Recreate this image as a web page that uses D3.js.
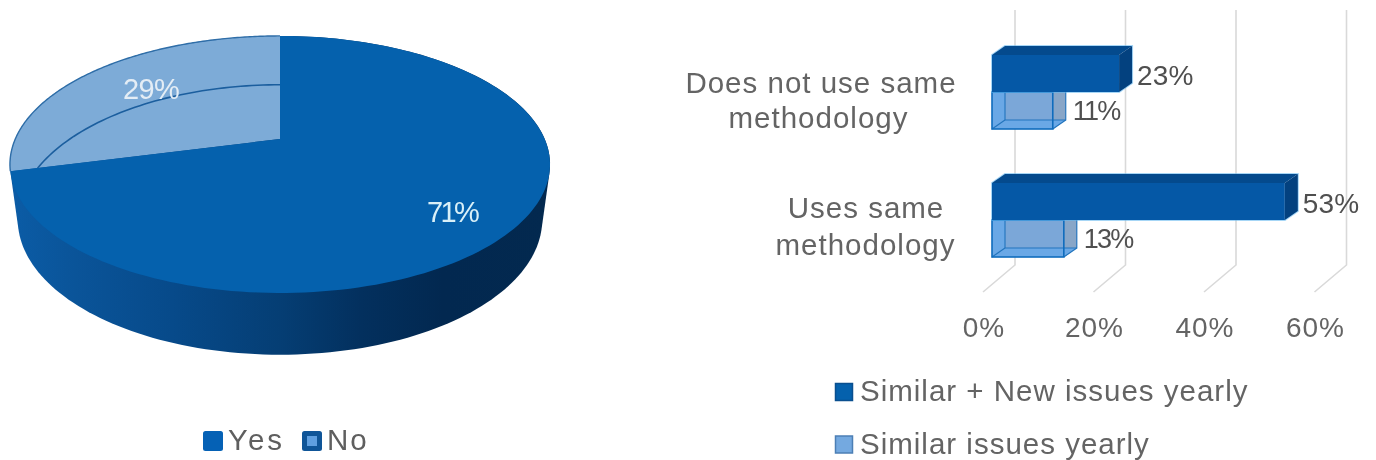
<!DOCTYPE html>
<html><head><meta charset="utf-8">
<script src="https://cdn.jsdelivr.net/npm/d3@7"></script>
<style>html,body{margin:0;padding:0;background:#fff}svg{display:block;filter:blur(0.55px)}text{font-family:"Liberation Sans",Arial,sans-serif}</style>
</head><body><svg id="c" width="1376" height="460"></svg>
<script>
const pieLabels = ["Yes","No"];
const pieValues = [71,29];
const categories = ["Does not use same methodology","Uses same methodology"];
const categoryLines = [["Does not use same","methodology"],["Uses same","methodology"]];
const seriesNames = ["Similar + New issues yearly","Similar issues yearly"];
const seriesNew = [23,53];
const seriesSimilar = [11,13];
const xTicks = [0,20,40,60];

const svg = d3.select("#c");
const defs = svg.append("defs");
const grad = defs.append("linearGradient").attr("id","wall").attr("gradientUnits","userSpaceOnUse")
  .attr("x1",10).attr("x2",550).attr("y1",0).attr("y2",0);
[[0,"#0b5ca6"],[0.12,"#0a5499"],[0.3,"#074a8a"],[0.5,"#053e74"],[0.65,"#03305e"],[0.8,"#022850"],[1,"#03294f"]]
  .forEach(s=>grad.append("stop").attr("offset",s[0]).attr("stop-color",s[1]));

// ---------- 3D pie: a perspective projection of the unit disc
const k = 0.198;
const topDisc = {cx:280, cy:139, a:264.7, h:123.5};
const baseDisc = {cx:280, cy:193, a:257, h:129.7};
const project = (d,u,v)=>[d.cx+d.a*u/(1-k*v), d.cy+d.h*v/(1-k*v)];
const rim = (d,a)=>project(d,Math.sin(a),-Math.cos(a));
const arcs = d3.pie().sort(null)(pieValues);
const sampleArc = (d,a0,a1,n=160)=>d3.range(n+1).map(i=>rim(d,a0+(a1-a0)*i/n));
const line = d3.line().curve(d3.curveLinear);
const full = 2*Math.PI;
const hull = d3.polygonHull(sampleArc(topDisc,0,full,240).concat(sampleArc(baseDisc,0,full,240)));
const pieG = svg.append("g");
pieG.append("path").attr("d",line(hull)+"Z").attr("fill","url(#wall)");
const sector = a=>line([[topDisc.cx,topDisc.cy],...sampleArc(topDisc,a.startAngle,a.endAngle)])+"Z";
// "No" slice: translucent; the far base edge shows through
defs.append("clipPath").attr("id","noClip").append("path").attr("d",sector(arcs[1]));
pieG.append("path").attr("d",sector(arcs[1])).attr("fill","#7dabd7");
pieG.append("path").attr("clip-path","url(#noClip)").attr("d",line(sampleArc(baseDisc,0,full,240))+"Z")
  .attr("fill","none").attr("stroke","#1b5e9e").attr("stroke-width",1.6);
pieG.append("path").attr("d",line(sampleArc(topDisc,arcs[1].startAngle,arcs[1].endAngle))).attr("fill","none").attr("stroke","#2f6ea8").attr("stroke-width",1.4);
pieG.append("path").attr("d",sector(arcs[0])).attr("fill","#0561ad");
pieG.append("text").attr("x",151).attr("y",99).attr("text-anchor","middle").attr("font-size",29).attr("letter-spacing",-.6).attr("fill","#e4edf5").text(pieValues[1]+"%");
pieG.append("text").attr("x",452).attr("y",222).attr("text-anchor","middle").attr("font-size",29).attr("letter-spacing",-2.6).attr("fill","#d9f0f8").text(pieValues[0]+"%");

// pie legend
const pieLegend = [{x:203,tx:228,ls:3,fill:"#0561b5",inner:null,lab:pieLabels[0]},{x:302,tx:327,ls:2,fill:"#0f5598",inner:"#5f9fe0",lab:pieLabels[1]}];
pieLegend.forEach(l=>{
  svg.append("rect").attr("x",l.x).attr("y",431).attr("width",20).attr("height",20).attr("rx",2.5).attr("fill",l.fill);
  if(l.inner) svg.append("rect").attr("x",l.x+5).attr("y",436).attr("width",10).attr("height",10).attr("fill",l.inner);
  svg.append("text").attr("x",l.tx).attr("y",450).attr("font-size",29.5).attr("letter-spacing",l.ls).attr("fill","#5f5f5f").text(l.lab);
});

// ---------- 3D bars
const x = d3.scaleLinear().domain([0,60]).range([992,1323.5]);
const dx = 13, dy = -9;
const y0 = d3.scaleBand().domain(categories).range([55,257]).paddingInner(54/128);
const y1 = d3.scaleBand().domain([0,1]).range([0,y0.bandwidth()]);
const wallOff = 23, floorOff = -9;
const grid = svg.append("g");
xTicks.forEach(t=>{
  const fx = x(t)+floorOff, wx = x(t)+wallOff;
  grid.append("path").attr("d",line([[wx,10],[wx,265],[fx,292]])).attr("fill","none").attr("stroke","#d9d9d9").attr("stroke-width",1.6);
});
svg.append("g").selectAll("text").data(xTicks).join("text")
  .attr("x",t=>x(t)-8).attr("y",337).attr("text-anchor","middle").attr("font-size",28).attr("letter-spacing",1).attr("fill","#646464").text(t=>t+"%");

categories.forEach((c,i)=>{
  const Y = y0(c), h = y1.bandwidth();
  // light wireframe bar
  {
    const t=Y+y1(1), b=t+h, L=x(0), R=x(seriesSimilar[i]);
    const g=svg.append("g");
    g.append("rect").attr("x",L).attr("y",t).attr("width",R-L).attr("height",h).attr("fill","#74a9e0").attr("fill-opacity",.9);
    g.append("rect").attr("x",L+dx).attr("y",t+dy).attr("width",R-L).attr("height",h).attr("fill","#7ba7d8");
    g.append("path").attr("d",line([[R,t],[R+dx,t+dy],[R+dx,b+dy],[R,b]])+"Z").attr("fill","#88a6c8");
    g.append("path").attr("d",line([[L,b],[L+dx,b+dy],[R+dx,b+dy],[R,b]])+"Z").attr("fill","#6aa8e6");
    g.append("path").attr("d",line([[L,t],[L+dx,t+dy],[L+dx,b+dy],[L,b]])+"Z").attr("fill","#6aa8e6");
    g.append("path").attr("d",line([[L+dx,t],[L+dx,b+dy],[R+dx,b+dy],[R+dx,t]])).attr("fill","none").attr("stroke","#2274bd").attr("stroke-width",1.1);
    g.append("path").attr("d",line([[L,b],[L+dx,b+dy]])).attr("stroke","#2274bd").attr("stroke-width",1.1);
    g.append("path").attr("d",line([[R,b],[R+dx,b+dy]])).attr("stroke","#2274bd").attr("stroke-width",1.1);
    g.append("rect").attr("x",L).attr("y",t).attr("width",R-L).attr("height",h).attr("fill","none").attr("stroke","#0f6cbd").attr("stroke-width",1.6);
    svg.append("text").attr("x",R+dx+7).attr("y",t+h/2+9).attr("font-size",27).attr("letter-spacing",-1.8).attr("fill","#505050").text(seriesSimilar[i]+"%");
  }
  // dark bar
  {
    const t=Y+y1(0), b=t+h, L=x(0), R=x(seriesNew[i]);
    const g=svg.append("g");
    g.append("path").attr("d",line([[L,t],[L+dx,t+dy],[R+dx,t+dy],[R+dx,b+dy],[R,b],[L,b]])+"Z").attr("fill","none").attr("stroke","#5cb4ee").attr("stroke-width",2).attr("stroke-opacity",.55);
    g.append("rect").attr("x",L).attr("y",t).attr("width",R-L).attr("height",h).attr("fill","#0558a6");
    g.append("path").attr("d",line([[L,t],[L+dx,t+dy],[R+dx,t+dy],[R,t]])+"Z").attr("fill","#044a8d");
    g.append("path").attr("d",line([[R,t],[R+dx,t+dy],[R+dx,b+dy],[R,b]])+"Z").attr("fill","#03417f");
    svg.append("text").attr("x",R+dx+5).attr("y",t+h/2+11).attr("font-size",28).attr("letter-spacing",.2).attr("fill","#4f4f4f").text(seriesNew[i]+"%");
  }
  // category label
  const lines = categoryLines[i];
  const cx = i===0 ? [821,818.5] : [866,865.5];
  const ly = i===0 ? [93,128] : [218,255];
  lines.forEach((s,j)=>svg.append("text").attr("x",cx[j]).attr("y",ly[j]).attr("text-anchor","middle").attr("font-size",29.5).attr("letter-spacing",1).attr("fill","#646464").text(s));
});

// bar legend
[{y:383.5,fill:"#0561ad",stroke:"#0a4f8f",ty:401},{y:436,fill:"#74a9e0",stroke:"#4c7fb5",ty:454}].forEach((l,i)=>{
  svg.append("rect").attr("x",835.5).attr("y",l.y).attr("width",17).attr("height",17).attr("fill",l.fill).attr("stroke",l.stroke).attr("stroke-width",1.5);
  svg.append("text").attr("x",860).attr("y",l.ty).attr("font-size",29.5).attr("letter-spacing",1).attr("fill","#646464").text(seriesNames[i]);
});
</script></body></html>
